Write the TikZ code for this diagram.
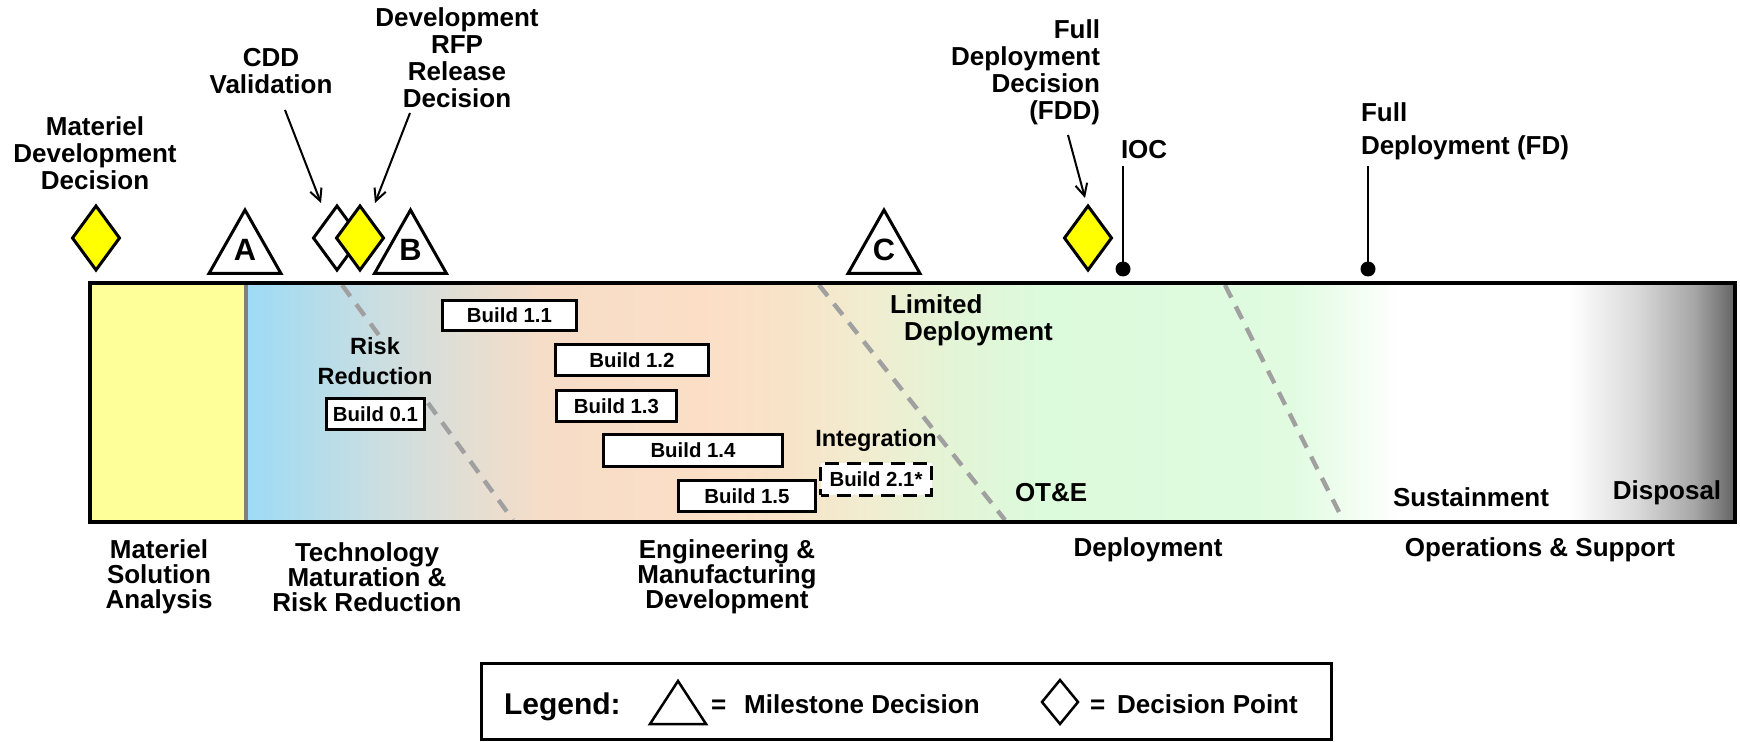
\documentclass[tikz,border=0pt]{standalone}
\usepackage{fontspec}
\setmainfont{Liberation Sans}
\usetikzlibrary{shapes.geometric,arrows.meta,calc}

% phase colours
\definecolor{msafill}{RGB}{255,255,153}
\definecolor{dpfill}{RGB}{255,255,0}
\definecolor{g0}{RGB}{158,219,246}
\definecolor{g1}{RGB}{175,220,236}
\definecolor{g2}{RGB}{203,222,225}
\definecolor{g3}{RGB}{225,222,212}
\definecolor{g4}{RGB}{246,221,200}
\definecolor{g5}{RGB}{252,222,198}
\definecolor{g6}{RGB}{247,228,200}
\definecolor{g7}{RGB}{242,236,208}
\definecolor{g8}{RGB}{228,244,214}
\definecolor{g9}{RGB}{220,250,220}
\definecolor{g10}{RGB}{224,251,224}
\definecolor{g11}{RGB}{255,255,255}
\definecolor{g12}{RGB}{255,255,255}
\definecolor{g13}{RGB}{215,215,215}
\definecolor{g14}{RGB}{165,165,165}
\definecolor{g15}{RGB}{98,98,98}
\definecolor{phasegray}{RGB}{160,160,160}

% milestone triangle with its letter: name, centre x, letter
\newcommand\milestonetri[3]{%
  \draw[tri] ({#2-36},273.5) -- (#2,210) -- ({#2+36},273.5) -- cycle;
  \node[msletter] (#1) at (#2,261) {#3};}

\begin{document}
\begin{tikzpicture}[x=0.5pt, y=-0.5pt,
  every node/.style={inner sep=0pt, outer sep=0pt},
  lbl/.style={align=center, font=\fontsize{13}{13.5}\selectfont\bfseries},
  inlbl/.style={align=center, font=\fontsize{11.75}{15}\selectfont\bfseries},
  phaselbl/.style={align=center, font=\fontsize{13}{12.5}\selectfont\bfseries},
  msletter/.style={anchor=base, font=\fontsize{15.4}{16}\selectfont\bfseries},
  buildbox/.style={draw, line width=1.5pt, fill=white,
    font=\fontsize{10.2}{12}\selectfont\bfseries},
  tri/.style={draw, line width=1.5pt, fill=white, line join=miter},
  decpt/.style={diamond, draw, line width=1.5pt, line join=miter,
    minimum width=23.5pt, minimum height=32pt},
  callout/.style={line width=1pt, -{Straight Barb[length=6pt,width=6pt]}},
  phaseline/.style={draw=phasegray, line width=2.2pt, dash pattern=on 7pt off 5pt},
  evtline/.style={line width=1.3pt},
  evtdot/.style={circle, fill=black, minimum size=7.5pt},
]
\useasboundingbox (0,0) rectangle (1740,742);

% ---- life-cycle bar ----
\fill[msafill] (90,283) rectangle (246,522);
\foreach \xa/\xb/\i/\j in {246/300/0/1, 300/380/1/2, 380/460/2/3, 460/540/3/4,
    540/700/4/5, 700/790/5/6, 790/860/6/7, 860/950/7/8, 950/1040/8/9,
    1040/1290/9/10, 1290/1400/10/11, 1400/1570/11/12, 1570/1640/12/13,
    1640/1695/13/14, 1695/1735/14/15}
  \shade[left color=g\i, right color=g\j] (\xa,283) rectangle ({\xb+1},522);

% phase boundaries
\draw[phaseline] (342,285) -- (381,338);
\draw[phaseline] (428,403) -- (513,520);
\draw[phaseline] (819,285) -- (1005,520);
\draw[phaseline] (1225,285) -- (1343,520);

\draw[gray, line width=2pt] (246,284) -- (246,521);
\draw[line width=1.75pt] (90,283) rectangle (1735,522);

% ---- builds ----
\node[buildbox, minimum width=49pt,   minimum height=15.5pt] (b01) at (375.5,414)   {Build 0.1};
\node[buildbox, minimum width=67pt,   minimum height=15pt]   (b11) at (509.5,315.5) {Build 1.1};
\node[buildbox, minimum width=76.5pt, minimum height=15.5pt] (b12) at (632,360)     {Build 1.2};
\node[buildbox, minimum width=60pt,   minimum height=15.5pt] (b13) at (616.5,406)   {Build 1.3};
\node[buildbox, minimum width=89.5pt, minimum height=16pt]   (b14) at (693,450.5)   {Build 1.4};
\node[buildbox, minimum width=68.5pt, minimum height=15.5pt] (b15) at (747,496)     {Build 1.5};
\node[buildbox, dash pattern=on 7pt off 4pt, dash phase=3pt, minimum width=55.5pt, minimum height=16pt]
  (b21) at (876,479.5) {Build 2.1*};

% ---- labels inside the bar ----
\node[inlbl] (risk) at (375,361) {Risk\\Reduction};
\node[lbl, align=left, anchor=west] (limdep) at (890,320) {Limited\\\hspace*{7pt}Deployment};
\node[inlbl] (integ) at (876,440) {Integration};
\node[lbl, anchor=west] (ote) at (1015,493) {OT\&E};
\node[lbl] (sust) at (1471,497) {Sustainment};
\node[lbl] (disp) at (1667,493) {Disposal};

% ---- phase names ----
\node[phaselbl] (msa) at (159,577) {Materiel\\Solution\\Analysis};
\node[phaselbl] (tmrr) at (367,577) {Technology\\Maturation \&\\Risk Reduction};
\node[phaselbl] (emd) at (727,577) {Engineering \&\\Manufacturing\\Development};
\node[phaselbl] (pd) at (1148,550) {Deployment};
\node[phaselbl] (os) at (1540,550) {Operations \& Support};

% ---- milestones ----
\milestonetri{msA}{245}{A}
\milestonetri{msB}{410.5}{B}
\milestonetri{msC}{884}{C}

% ---- decision points ----
\node[decpt, fill=dpfill] (mdd) at (96,238) {};
\node[decpt, fill=white] (cdd) at (337,238) {};
\node[decpt, fill=dpfill] (rfp) at (360,238) {};
\node[decpt, fill=dpfill] (fdd) at (1088,238) {};

\node[lbl] (mddlab) at (95,153) {Materiel\\Development\\Decision};
\node[lbl] (cddlab) at (271,71) {CDD\\Validation};
\node[lbl] (rfplab) at (457,58) {Development\\RFP\\Release\\Decision};
\node[lbl, align=right, anchor=east] (fddlab) at (1100,72) {Full\\Deployment\\Decision\\(FDD)};

\coordinate (cddtail) at (285,110);
\coordinate (rfptail) at (410,113);
\coordinate (fddtail) at (1068,135);
\draw[callout] (cddtail) -- ([xshift=-8pt,yshift=1.5pt]cdd.north);
\draw[callout] (rfptail) -- ([xshift=7.5pt,yshift=1.5pt]rfp.north);
\draw[callout] (fddtail) -- ([xshift=-1.5pt,yshift=4pt]fdd.north);

% ---- IOC and FD events ----
\node[evtdot] (iocdot) at (1123,269) {};
\node[evtdot] (fddot) at (1368,269) {};
\node[lbl, anchor=west] (ioclab) at (1121,150) {IOC};
\node[lbl, align=left, anchor=west, font=\fontsize{13}{16.5}\selectfont\bfseries]
  (fdlab) at (1361,131) {Full\\Deployment (FD)};
\coordinate (ioctop) at (1123,166);
\coordinate (fdtop) at (1368,166);
\draw[evtline] (ioctop) -- (iocdot.center);
\draw[evtline] (fdtop) -- (fddot.center);

% ---- legend ----
\draw[line width=1.5pt] (481,663) rectangle (1331,739);
\node[anchor=base west, font=\fontsize{15}{16}\selectfont\bfseries] (legtitle) at (504,714) {Legend:};
\draw[line width=1.25pt, line join=miter] (650,724) -- (678,681) -- (706,724) -- cycle;
\node[anchor=base west, font=\fontsize{13}{14}\selectfont\bfseries] (legms) at (711,713)
  {=\hspace{9pt}Milestone Decision};
\node[diamond, draw, line width=1.25pt, line join=miter, minimum width=18pt,
  minimum height=22pt] (legdp) at (1060,702) {};
\node[anchor=base west, font=\fontsize{13}{14}\selectfont\bfseries] (legdptxt) at (1090,713)
  {=\hspace{6pt}Decision Point};
\end{tikzpicture}
\end{document}
